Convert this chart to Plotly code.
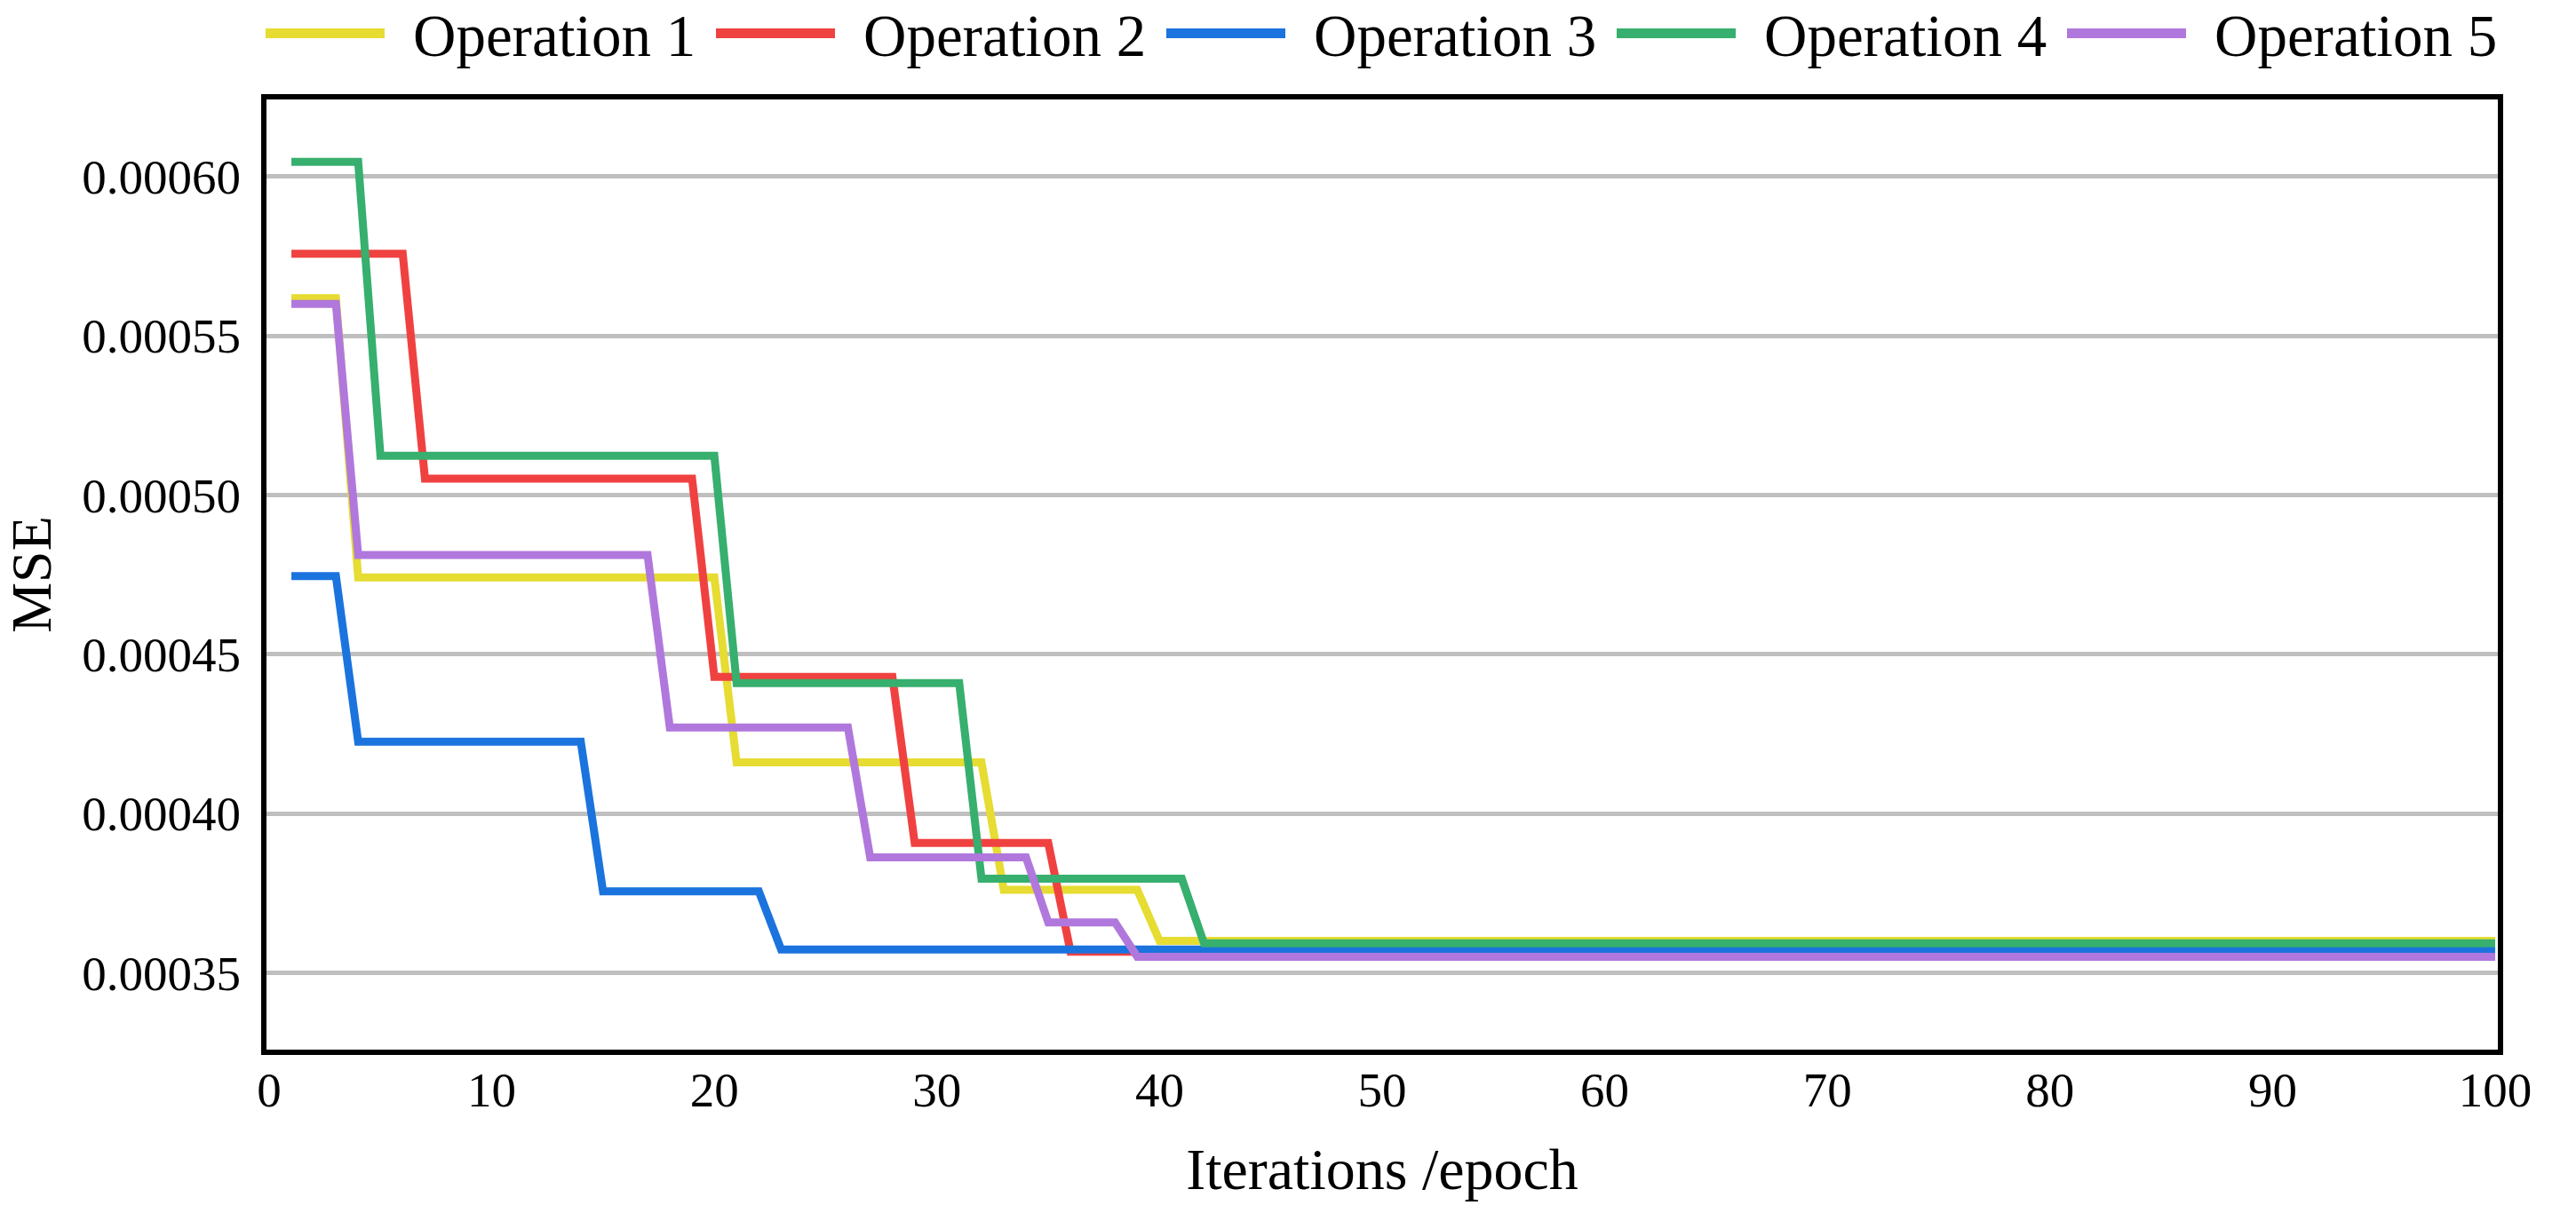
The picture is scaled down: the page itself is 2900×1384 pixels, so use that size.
import plotly.graph_objects as go

# ---------------- data ----------------
series_names = ["Operation 1", "Operation 2", "Operation 3", "Operation 4", "Operation 5"]
series_colors = ["#E6DC32", "#F04141", "#1B73DE", "#37AF6E", "#B078DC"]

op1_x = [1, 3, 4, 20, 21, 32, 33, 39, 40, 100]
op1_y = [0.0005618, 0.0005618, 0.0004741, 0.0004741, 0.0004160, 0.0004160,
         0.0003760, 0.0003760, 0.0003600, 0.0003600]

op2_x = [1, 6, 7, 19, 20, 28, 29, 35, 36, 100]
op2_y = [0.0005757, 0.0005757, 0.0005051, 0.0005051, 0.0004429, 0.0004429,
         0.0003907, 0.0003907, 0.0003566, 0.0003566]

op3_x = [1, 3, 4, 14, 15, 22, 23, 100]
op3_y = [0.0004745, 0.0004745, 0.0004225, 0.0004225, 0.0003755, 0.0003755,
         0.0003573, 0.0003573]

op4_x = [1, 4, 5, 20, 21, 31, 32, 41, 42, 100]
op4_y = [0.0006046, 0.0006046, 0.0005123, 0.0005123, 0.0004409, 0.0004409,
         0.0003795, 0.0003795, 0.0003592, 0.0003592]

op5_x = [1, 3, 4, 17, 18, 26, 27, 34, 35, 38, 39, 100]
op5_y = [0.0005600, 0.0005600, 0.0004811, 0.0004811, 0.0004270, 0.0004270,
         0.0003862, 0.0003862, 0.0003658, 0.0003658, 0.0003550, 0.0003550]

x_ticks = [0, 10, 20, 30, 40, 50, 60, 70, 80, 90, 100]
y_ticks = [0.00035, 0.00040, 0.00045, 0.00050, 0.00055, 0.00060]
y_tick_labels = ["0.00035", "0.00040", "0.00045", "0.00050", "0.00055", "0.00060"]
x_range = [0, 100]
y_range = [0.000325, 0.000625]

x_title = "Iterations /epoch"
y_title = "MSE"

# ---------------- layout geometry ----------------
W, H = 2900, 1384
FRAME_L, FRAME_R, FRAME_T, FRAME_B = 297, 2815, 109, 1185   # frame line centres
LW = 6                                                       # frame width
ML = FRAME_L + LW / 2
MR = W - (FRAME_R - LW / 2)
MT = FRAME_T + LW / 2
MB = H - (FRAME_B - LW / 2)
PW, PH = W - ML - MR, H - MT - MB
FONT = "Liberation Serif"

# extend the ranges so that the range ends sit on the frame centre lines
xu = (x_range[1] - x_range[0]) / (FRAME_R - FRAME_L)
yu = (y_range[1] - y_range[0]) / (FRAME_B - FRAME_T)
x_rng = [x_range[0] - xu * LW / 2, x_range[1] + xu * LW / 2]
y_rng = [y_range[0] + yu * LW / 2, y_range[1] - yu * LW / 2]

xs = [op1_x, op2_x, op3_x, op4_x, op5_x]
ys = [op1_y, op2_y, op3_y, op4_y, op5_y]

fig = go.Figure()
for name, color, x, y in zip(series_names, series_colors, xs, ys):
    fig.add_trace(go.Scatter(x=x, y=y, mode="lines", name=name,
                             line=dict(color=color, width=9),
                             showlegend=False))

# ---------------- manual legend across the top ----------------
def px2paper_x(px):
    return (px - ML) / PW

def px2paper_y(py):
    return (H - MB - py) / PH

LEG_X0 = 299
LEG_STEP = 507
LEG_LINE = 134
LEG_TEXT_DX = 164
LEG_LINE_Y = 37.5
LEG_TEXT_Y = 40.5

shapes = []
annotations = []
for i, (name, color) in enumerate(zip(series_names, series_colors)):
    x0 = LEG_X0 + i * LEG_STEP
    shapes.append(dict(type="line", xref="paper", yref="paper",
                       x0=px2paper_x(x0), x1=px2paper_x(x0 + LEG_LINE),
                       y0=px2paper_y(LEG_LINE_Y), y1=px2paper_y(LEG_LINE_Y),
                       line=dict(color=color, width=11)))
    annotations.append(dict(text=name, xref="paper", yref="paper",
                            x=px2paper_x(x0 + LEG_TEXT_DX), y=px2paper_y(LEG_TEXT_Y),
                            xanchor="left", yanchor="middle", showarrow=False,
                            font=dict(family=FONT, size=67, color="black")))

fig.update_layout(
    width=W, height=H,
    margin=dict(l=ML, r=MR, t=MT, b=MB, autoexpand=False),
    paper_bgcolor="white", plot_bgcolor="white",
    font=dict(family=FONT, color="black"),
    shapes=shapes, annotations=annotations,
    showlegend=False,
)

fig.update_xaxes(
    range=x_rng, tickmode="array", tickvals=x_ticks,
    ticks="", ticklabelstandoff=-8,
    tickfont=dict(family=FONT, size=55, color="black"),
    showgrid=False, zeroline=False,
    showline=True, linecolor="black", linewidth=LW, mirror=True,
    title=dict(text=x_title, font=dict(family=FONT, size=66, color="black"), standoff=38),
    automargin=False,
)
fig.update_yaxes(
    range=y_rng, tickmode="array", tickvals=y_ticks, ticktext=y_tick_labels,
    ticks="outside", ticklen=12, tickcolor="rgba(0,0,0,0)",
    tickfont=dict(family=FONT, size=55, color="black"),
    showgrid=True, gridcolor="#BFBFBF", gridwidth=5,
    zeroline=False,
    showline=True, linecolor="black", linewidth=LW, mirror=True,
    title=dict(text=y_title, font=dict(family=FONT, size=64, color="black"), standoff=45),
    automargin=False,
)

fig.write_html("out.html",
               config={"displayModeBar": False},
               post_script="document.body.style.margin='0';document.body.style.overflow='hidden';")
